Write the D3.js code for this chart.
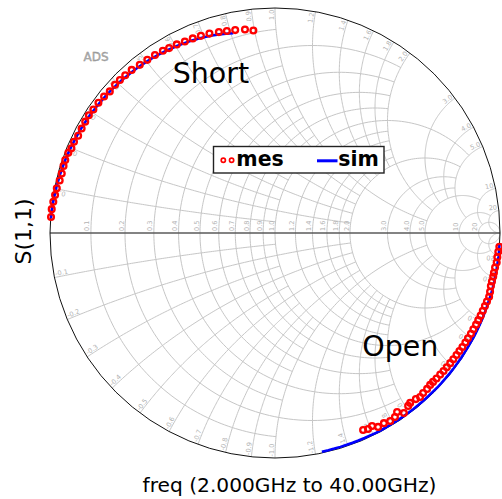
<!DOCTYPE html>
<html>
<head>
<meta charset="utf-8">
<script src="https://cdn.jsdelivr.net/npm/d3@7"></script>
<style>
  html, body { margin: 0; padding: 0; background: #fff; }
  svg { display: block; }
</style>
</head>
<body>
<svg id="chart" width="502" height="499"></svg>
<script>
// Smith chart grid values (used for both resistance circles and reactance arcs)
const gridValues = [0.1, 0.2, 0.3, 0.4, 0.5, 0.6, 0.7, 0.8, 0.9, 1.0,
                    1.2, 1.4, 1.6, 1.8, 2.0, 3.0, 4.0, 5.0, 10, 20];
const gridLabels = ["0.1", "0.2", "0.3", "0.4", "0.5", "0.6", "0.7", "0.8", "0.9", "1.0",
                    "1.2", "1.4", "1.6", "1.8", "2.0", "3.0", "4.0", "5.0", "10", "20"];
// How far each grid line runs along the other family before it stops
const rLimits = [1, 2, 1, 2, 1, 2, 1, 2, 1, 5, 2, 2, 2, 2, 5, 5, 5, 10, 20, Infinity];
const xLimits = [1, 2, 1, 2, 1, 2, 1, 2, 1, 5, 2, 2, 2, 2, 5, 5, 5, 10, 20, Infinity];

// S(1,1), 2 GHz .. 40 GHz : phase (deg) and magnitude
const shortMesAng = [175.9, 173.9, 172.0, 170.2, 168.4, 166.3, 164.4, 162.4, 160.8, 158.8,
                     157.4, 155.6, 153.7, 151.6, 149.6, 147.7, 145.8, 143.6, 141.4, 139.4,
                     137.2, 135.4, 133.5, 131.3, 128.8, 126.4, 124.0, 121.6, 119.8, 117.5,
                     115.2, 112.9, 110.6, 108.2, 105.6, 103.4, 101.1, 98.4, 96.1];
const shortMesMag = [0.998, 0.998, 0.995, 0.992, 0.990, 0.985, 0.984, 0.986, 0.987, 0.985,
                     0.980, 0.981, 0.976, 0.977, 0.978, 0.979, 0.976, 0.975, 0.972, 0.967,
                     0.969, 0.968, 0.967, 0.965, 0.959, 0.956, 0.954, 0.951, 0.947, 0.945,
                     0.941, 0.939, 0.936, 0.933, 0.927, 0.923, 0.919, 0.914, 0.905];
const shortSimAng = [176.3, 174.3, 172.4, 170.4, 168.5, 166.5, 164.5, 162.6, 160.6, 158.7,
                     156.7, 154.7, 152.8, 150.8, 148.9, 146.9, 144.9, 143.0, 141.0, 139.1,
                     137.1, 135.1, 133.2, 131.2, 129.3, 127.3, 125.3, 123.4, 121.4, 119.5,
                     117.5, 115.5, 113.6, 111.6, 109.7, 107.7, 105.7, 103.8, 101.8];
const shortSimMag = [0.998, 0.997, 0.996, 0.994, 0.993, 0.991, 0.990, 0.988, 0.987, 0.985,
                     0.983, 0.981, 0.980, 0.978, 0.976, 0.974, 0.972, 0.970, 0.968, 0.966,
                     0.964, 0.962, 0.959, 0.957, 0.955, 0.952, 0.950, 0.947, 0.944, 0.941,
                     0.938, 0.935, 0.932, 0.928, 0.925, 0.921, 0.917, 0.912, 0.907];
const openMesAng = [-3.5, -4.8, -6.2, -7.6, -8.9, -10.3, -11.3, -12.6, -13.8, -15.3,
                    -16.6, -17.9, -19.2, -20.5, -21.9, -23.2, -24.5, -25.9, -27.2, -28.6,
                    -29.9, -31.3, -32.6, -33.9, -35.3, -36.6, -38.0, -39.3, -40.6, -42.0,
                    -43.3, -44.4, -45.7, -47.2, -48.5, -49.7, -51.5, -52.4, -54.4, -55.7,
                    -56.9, -58.5, -60.2, -62.0, -63.3, -64.6, -65.9];
const openMesMag = [0.999, 0.996, 0.994, 0.994, 0.990, 0.989, 0.989, 0.988, 0.988, 0.991,
                    0.993, 0.990, 0.988, 0.986, 0.985, 0.983, 0.982, 0.980, 0.979, 0.977,
                    0.976, 0.975, 0.973, 0.972, 0.971, 0.970, 0.969, 0.968, 0.967, 0.966,
                    0.965, 0.965, 0.968, 0.969, 0.973, 0.968, 0.965, 0.970, 0.984, 0.963,
                    0.976, 0.980, 0.974, 0.976, 0.960, 0.964, 0.959];
const openSimAng = [-2.8, -4.4, -6.1, -7.7, -9.3, -11.0, -12.6, -14.2, -15.9, -17.5,
                    -19.1, -20.8, -22.4, -24.0, -25.6, -27.3, -28.9, -30.5, -32.2, -33.8,
                    -35.4, -37.1, -38.7, -40.3, -42.0, -43.6, -45.2, -46.9, -48.5, -50.1,
                    -51.8, -53.4, -55.0, -56.6, -58.3, -59.9, -61.5, -63.2, -64.8, -66.4,
                    -68.1, -69.7, -71.3, -73.0, -74.6, -76.2, -77.9];
const openSimMag = [0.999, 0.999, 0.999, 0.998, 0.998, 0.998, 0.998, 0.998, 0.998, 0.997,
                    0.997, 0.997, 0.997, 0.997, 0.997, 0.997, 0.996, 0.996, 0.996, 0.996,
                    0.996, 0.996, 0.996, 0.996, 0.996, 0.996, 0.995, 0.995, 0.995, 0.995,
                    0.995, 0.995, 0.995, 0.995, 0.995, 0.995, 0.995, 0.995, 0.994, 0.994,
                    0.994, 0.994, 0.994, 0.994, 0.994, 0.994, 0.994];

const legendNames = ["mes", "sim"];
const traceNotes = [{text: "Short", re: -0.455, im: 0.665}, {text: "Open", re: 0.388, im: -0.547}];

const svg = d3.select("#chart");
const cx = 275, cy = 233, R = 225;
const gx = d3.scaleLinear().domain([-1, 1]).range([cx - R, cx + R]);
const gy = d3.scaleLinear().domain([-1, 1]).range([cy + R, cy - R]);
const line = d3.line().x(d => gx(d[0])).y(d => gy(d[1]));

// normalized impedance -> reflection coefficient
function gamma(r, x) {
  const d = (r + 1) * (r + 1) + x * x;
  return [((r - 1) * (r + 1) + x * x) / d, (2 * x) / d];
}
function polar(ang, mag) {
  const a = ang * Math.PI / 180;
  return [mag * Math.cos(a), mag * Math.sin(a)];
}

const gridColor = "#c6c6c6";
const grid = svg.append("g").attr("fill", "none").attr("stroke", gridColor).attr("stroke-width", 1);

// constant-resistance circles, running between reactance -L .. +L
gridValues.forEach((r, i) => {
  const L = rLimits[i];
  const c = r / (r + 1), rad = 1 / (r + 1);
  let phiL = 0;
  if (isFinite(L)) { const p = gamma(r, L); phiL = Math.atan2(p[1], p[0] - c); }
  const n = 160, pts = [];
  for (let k = 0; k <= n; k++) {
    const phi = phiL + (2 * Math.PI - 2 * phiL) * k / n;
    pts.push([c + rad * Math.cos(phi), rad * Math.sin(phi)]);
  }
  grid.append("path").attr("d", line(pts));
});

// constant-reactance arcs, running from the rim (r=0) to r=L
gridValues.forEach((v, i) => {
  const L = xLimits[i];
  [v, -v].forEach(x => {
    const cyc = 1 / x, rad = Math.abs(1 / x);
    const p0 = gamma(0, x);
    const p1 = isFinite(L) ? gamma(L, x) : [1, 0];
    const a0 = Math.atan2(p0[1] - cyc, p0[0] - 1);
    let a1 = Math.atan2(p1[1] - cyc, p1[0] - 1);
    let da = a1 - a0;
    while (da > Math.PI) da -= 2 * Math.PI;
    while (da <= -Math.PI) da += 2 * Math.PI;
    const n = 120, pts = [];
    for (let k = 0; k <= n; k++) {
      const a = a0 + da * k / n;
      pts.push([1 + rad * Math.cos(a), cyc + rad * Math.sin(a)]);
    }
    grid.append("path").attr("d", line(pts));
  });
});

// real axis
svg.append("line")
  .attr("x1", gx(-1)).attr("x2", gx(1)).attr("y1", gy(0)).attr("y2", gy(0))
  .attr("stroke", "#5a5a5a").attr("stroke-width", 1.4);

// outer rim
svg.append("circle").attr("cx", gx(0)).attr("cy", gy(0)).attr("r", gx(1) - gx(0))
  .attr("fill", "none").attr("stroke", "#111").attr("stroke-width", 1);

// grid labels
const lab = svg.append("g").attr("font-family", "DejaVu Sans, sans-serif")
  .attr("font-size", 6.6).attr("fill", "#b3b3b3");
gridValues.forEach((r, i) => {
  const re = gamma(r, 0)[0];
  const px = gx(re) - 1.5, py = gy(0) - 2;
  lab.append("text").attr("text-anchor", "start")
    .attr("transform", `translate(${px},${py}) rotate(-90)`)
    .text(gridLabels[i]);
});
gridValues.forEach((v, i) => {
  [1, -1].forEach(s => {
    const p = gamma(0, s * v);
    const th = Math.atan2(p[1], p[0]);
    const inset = 1.5 / R;
    const px = gx(p[0] * (1 - inset)), py = gy(p[1] * (1 - inset));
    const deg = th * 180 / Math.PI;
    const rot = s > 0 ? -deg : -deg + 180;
    lab.append("text")
      .attr("text-anchor", s > 0 ? "end" : "start")
      .attr("dy", -1.2)
      .attr("transform", `translate(${px},${py}) rotate(${rot})`)
      .text((s < 0 ? "-" : "") + gridLabels[i]);
  });
});

// product mark
svg.append("text").attr("x", 83.5).attr("y", 60.5)
  .attr("font-family", "DejaVu Sans, sans-serif").attr("font-size", 12)
  .attr("fill", "#b0b0b0").attr("stroke", "#8a8a8a").attr("stroke-width", 0.35)
  .text("ADS");

// traces
const shortSim = d3.zip(shortSimAng, shortSimMag).map(d => polar(d[0], d[1]));
const openSim = d3.zip(openSimAng, openSimMag).map(d => polar(d[0], d[1]));
const shortMes = d3.zip(shortMesAng, shortMesMag).map(d => polar(d[0], d[1]));
const openMes = d3.zip(openMesAng, openMesMag).map(d => polar(d[0], d[1]));

const simG = svg.append("g").attr("fill", "none").attr("stroke", "#0000ff").attr("stroke-width", 2.6);
[shortSim, openSim].forEach(tr => simG.append("path").attr("d", line(tr)));

const mesG = svg.append("g").attr("fill", "none").attr("stroke", "#ff0000").attr("stroke-width", 2.3);
[shortMes, openMes].forEach(tr => {
  mesG.selectAll(null).data(tr).enter().append("circle")
    .attr("cx", d => gx(d[0])).attr("cy", d => gy(d[1])).attr("r", 2.9);
});

// trace annotations
traceNotes.forEach(t => {
  svg.append("text").attr("x", gx(t.re)).attr("y", gy(t.im))
    .attr("font-family", "DejaVu Sans, sans-serif").attr("font-size", 28.5)
    .attr("fill", "#000").text(t.text);
});

// legend
const lg = svg.append("g");
lg.append("rect").attr("x", 213.5).attr("y", 146.5).attr("width", 170.5).attr("height", 26.5)
  .attr("fill", "#fff").attr("stroke", "#222").attr("stroke-width", 1.4);
[223.3, 231.6].forEach(x => lg.append("circle").attr("cx", x).attr("cy", 160.3).attr("r", 2.1)
  .attr("fill", "none").attr("stroke", "#ff0000").attr("stroke-width", 1.7));
lg.append("line").attr("x1", 317).attr("x2", 337.5).attr("y1", 160.8).attr("y2", 160.8)
  .attr("stroke", "#0000ff").attr("stroke-width", 3);
lg.append("text").attr("x", 236.3).attr("y", 165.8).attr("font-family", "DejaVu Sans, sans-serif")
  .attr("font-weight", "bold").attr("font-size", 20.5).text(legendNames[0]);
lg.append("text").attr("x", 338.3).attr("y", 165.8).attr("font-family", "DejaVu Sans, sans-serif")
  .attr("font-weight", "bold").attr("font-size", 20.5).text(legendNames[1]);

// axis titles
svg.append("text").attr("x", 289.5).attr("y", 492).attr("text-anchor", "middle")
  .attr("font-family", "DejaVu Sans, sans-serif").attr("font-size", 20.2)
  .text("freq (2.000GHz to 40.00GHz)");
svg.append("text").attr("transform", "translate(30.5,231.5) rotate(-90)").attr("text-anchor", "middle")
  .attr("font-family", "DejaVu Sans, sans-serif").attr("font-size", 22)
  .text("S(1,1)");
</script>
</body>
</html>
